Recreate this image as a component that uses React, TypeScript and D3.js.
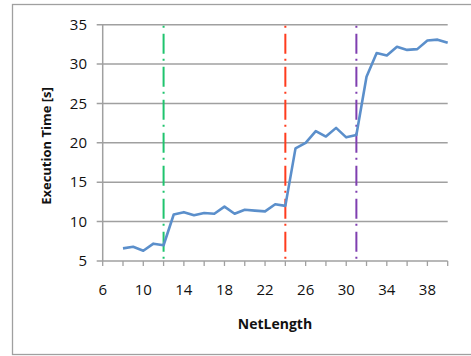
import React, { useEffect, useRef } from 'react';
import * as d3 from 'd3';

// NetLength values and measured execution times
const netLength = [8, 9, 10, 11, 12, 13, 14, 15, 16, 17, 18, 19, 20, 21, 22, 23, 24, 25, 26, 27, 28, 29, 30, 31, 32, 33, 34, 35, 36, 37, 38, 39, 40];
const execTime = [6.6, 6.8, 6.3, 7.2, 7.0, 10.9, 11.2, 10.8, 11.1, 11.0, 11.9, 11.0, 11.5, 11.4, 11.3, 12.2, 12.0, 19.3, 20.0, 21.5, 20.8, 21.9, 20.7, 21.0, 28.4, 31.4, 31.1, 32.2, 31.8, 31.9, 33.0, 33.1, 32.7];

const xTicks = [6, 8, 10, 12, 14, 16, 18, 20, 22, 24, 26, 28, 30, 32, 34, 36, 38, 40];
const xLabels = [6, 10, 14, 18, 22, 26, 30, 34, 38];
const yTicks = [5, 10, 15, 20, 25, 30, 35];

const markers = [12, 24, 31];
const markerColors = ['#1fc46e', '#ff3c1e', '#7f3fb0'];

const W = 471;
const H = 356;

export default function App() {
  const svgRef = useRef<SVGSVGElement>(null);

  useEffect(() => {
    const svg = d3.select(svgRef.current);
    svg.selectAll('*').remove();

    const x = d3.scaleLinear().domain([6, 40]).range([102.7, 447.7]);
    const y = d3.scaleLinear().domain([5, 35]).range([261, 24.7]);
    const font = "'Open Sans', 'DejaVu Sans', sans-serif";
    const gray = '#a0a0a0';
    const ink = '#111';

    // outer chart border
    svg.append('rect')
      .attr('x', 12.5).attr('y', 4.5)
      .attr('width', 480).attr('height', 350)
      .attr('fill', 'white')
      .attr('stroke', gray)
      .attr('stroke-width', 1.3);

    // horizontal gridlines
    svg.append('g').selectAll('line')
      .data(yTicks.filter(d => d > 5))
      .join('line')
      .attr('x1', x(6) - 6).attr('x2', x(40))
      .attr('y1', d => y(d)).attr('y2', d => y(d))
      .attr('stroke', gray).attr('stroke-width', 1.5);

    // axes
    svg.append('line')
      .attr('x1', x(6)).attr('x2', x(6))
      .attr('y1', y(35)).attr('y2', y(5))
      .attr('stroke', gray).attr('stroke-width', 1.5);
    svg.append('line')
      .attr('x1', x(6) - 6).attr('x2', x(40))
      .attr('y1', y(5)).attr('y2', y(5))
      .attr('stroke', gray).attr('stroke-width', 1.5);

    // x tick marks
    svg.append('g').selectAll('line')
      .data(xTicks)
      .join('line')
      .attr('x1', d => x(d)).attr('x2', d => x(d))
      .attr('y1', y(5)).attr('y2', y(5) + 5)
      .attr('stroke', gray).attr('stroke-width', 1.3);

    // y tick labels
    svg.append('g').selectAll('text')
      .data(yTicks)
      .join('text')
      .attr('x', 87).attr('y', d => y(d))
      .attr('dy', '0.35em')
      .attr('text-anchor', 'end')
      .attr('font-family', font).attr('font-size', 15)
      .attr('fill', ink)
      .text(d => d);

    // x tick labels
    svg.append('g').selectAll('text')
      .data(xLabels)
      .join('text')
      .attr('x', d => x(d)).attr('y', 290)
      .attr('dy', '0.35em')
      .attr('text-anchor', 'middle')
      .attr('font-family', font).attr('font-size', 15)
      .attr('fill', ink)
      .text(d => d);

    // marker lines
    svg.append('g').selectAll('line')
      .data(markers)
      .join('line')
      .attr('x1', d => x(d)).attr('x2', d => x(d))
      .attr('y1', y(35)).attr('y2', y(5))
      .attr('stroke', (d, i) => markerColors[i])
      .attr('stroke-width', 2)
      .attr('stroke-dasharray', '2,6,20,5')
      .attr('stroke-dashoffset', -1);

    // data line
    const pts = netLength.map((d, i) => [d, execTime[i]] as [number, number]);
    const line = d3.line<[number, number]>()
      .x(d => x(d[0]))
      .y(d => y(d[1]));
    svg.append('path')
      .attr('d', line(pts))
      .attr('fill', 'none')
      .attr('stroke', '#5b8fcb')
      .attr('stroke-width', 2.6)
      .attr('stroke-linejoin', 'round');

    // axis titles
    svg.append('text')
      .attr('x', 275).attr('y', 324)
      .attr('dy', '0.35em')
      .attr('text-anchor', 'middle')
      .attr('font-family', font).attr('font-size', 14).attr('font-weight', 'bold')
      .attr('fill', ink)
      .text('NetLength');

    svg.append('text')
      .attr('transform', 'translate(46,146) rotate(-90)')
      .attr('dy', '0.35em')
      .attr('text-anchor', 'middle')
      .attr('font-family', font).attr('font-size', 13).attr('font-weight', 'bold')
      .attr('fill', ink)
      .text('Execution Time [s]');
  }, []);

  return (
    <svg ref={svgRef} width={W} height={H}
      style={{ position: 'absolute', left: 0, top: 0, display: 'block' }} />
  );
}
